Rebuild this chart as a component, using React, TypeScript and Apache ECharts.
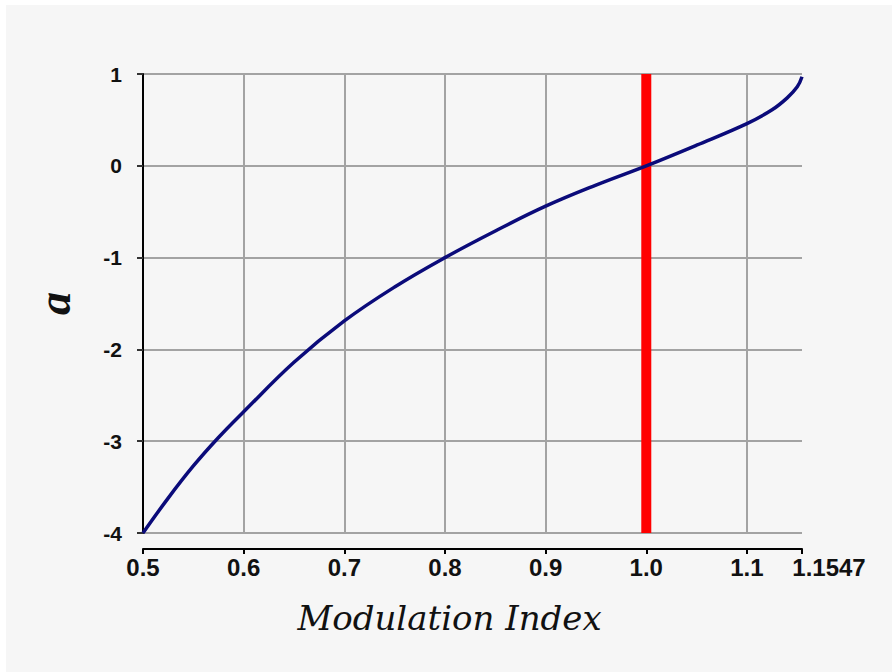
import React, { useEffect, useRef } from "react";
import * as echarts from "echarts";

// Modulation index samples and the corresponding alpha values
const modulationIndex = [
  0.5, 0.525, 0.55, 0.575, 0.6, 0.65, 0.7, 0.75, 0.8, 0.85, 0.9, 0.95, 1.0,
  1.05, 1.1, 1.125, 1.14, 1.15, 1.1547,
];
const alphaValues = [
  -4.0, -3.62, -3.27, -2.96, -2.68, -2.14, -1.69, -1.32, -1.0, -0.71, -0.44,
  -0.21, 0.0, 0.225, 0.46, 0.61, 0.74, 0.86, 0.97,
];

// Reference marker at unity modulation index
const markerIndex = 1.0;

const xMin = 0.5;
const xMax = 1.1547;
const xStep = 0.1;
const yMin = -4;
const yMax = 1;
const yStep = 1;

const xTitle = "Modulation Index";
const yTitle = "a";

export default function App() {
  const ref = useRef<HTMLDivElement>(null);

  useEffect(() => {
    if (!ref.current) return;
    const chart = echarts.init(ref.current, null, { renderer: "svg" });

    const curve = modulationIndex.map((m, i) => [m, alphaValues[i]]);
    const marker = [
      [markerIndex, yMin],
      [markerIndex, yMax],
    ];

    const xLabelFont = {
      fontFamily: "Liberation Sans, Arial, sans-serif",
      fontWeight: "bold" as const,
      fontSize: 24,
      color: "#111",
    };
    const yLabelFont = { ...xLabelFont, fontSize: 21 };

    chart.setOption({
      animation: false,
      backgroundColor: "transparent",
      grid: { left: 143, top: 74, width: 659, height: 459 },
      xAxis: {
        type: "value",
        min: xMin,
        max: xMax,
        interval: xStep,
        offset: 16,
        name: xTitle,
        nameLocation: "middle",
        nameGap: 52,
        nameTextStyle: {
          fontFamily: "DejaVu Serif, serif",
          fontStyle: "italic",
          fontSize: 34,
          color: "#111",
          padding: [0, 46, 0, 0],
        },
        axisLine: {
          show: true,
          onZero: false,
          lineStyle: { color: "#000", width: 2 },
        },
        axisTick: {
          show: true,
          length: 5,
          lineStyle: { color: "#000", width: 2 },
        },
        splitLine: {
          show: true,
          showMinLine: false,
          showMaxLine: false,
          lineStyle: { color: "#a3a3a3", width: 2 },
        },
        axisLabel: {
          ...xLabelFont,
          margin: 6,
          showMinLabel: true,
          showMaxLabel: true,
          formatter: (v: number) =>
            Math.abs(v - xMax) < 1e-6
              ? "{m|" + xMax.toFixed(4) + "}"
              : v.toFixed(1),
          rich: {
            m: { ...xLabelFont, padding: [0, 0, 0, 54] },
          },
        },
      },
      yAxis: {
        type: "value",
        min: yMin,
        max: yMax,
        interval: yStep,
        name: yTitle,
        nameLocation: "middle",
        nameGap: 66,
        nameRotate: 90,
        nameTextStyle: {
          fontFamily: "Liberation Serif, serif",
          fontStyle: "italic",
          fontWeight: "bold",
          fontSize: 46,
          color: "#111",
        },
        axisLine: {
          show: true,
          onZero: false,
          lineStyle: { color: "#000", width: 2 },
        },
        axisTick: {
          show: true,
          length: 6,
          lineStyle: { color: "#333", width: 2 },
        },
        splitLine: {
          show: true,
          lineStyle: { color: "#a3a3a3", width: 2 },
        },
        axisLabel: { ...yLabelFont, margin: 21 },
      },
      series: [
        {
          type: "line",
          data: marker,
          symbol: "none",
          z: 2,
          lineStyle: { color: "#ff0000", width: 10 },
        },
        {
          type: "line",
          data: curve,
          smooth: 0.4,
          symbol: "none",
          z: 3,
          lineStyle: { color: "#0b0b7a", width: 3.5 },
        },
      ],
    });

    return () => chart.dispose();
  }, []);

  return (
    <div
      style={{
        position: "absolute",
        left: 0,
        top: 0,
        width: 892,
        height: 672,
        background: "#ffffff",
      }}
    >
      <div
        style={{
          position: "absolute",
          left: 6,
          top: 5,
          right: 0,
          bottom: 0,
          background: "#f6f6f6",
        }}
      />
      <div
        ref={ref}
        style={{ position: "absolute", left: 0, top: 0, width: 892, height: 672 }}
      />
    </div>
  );
}
